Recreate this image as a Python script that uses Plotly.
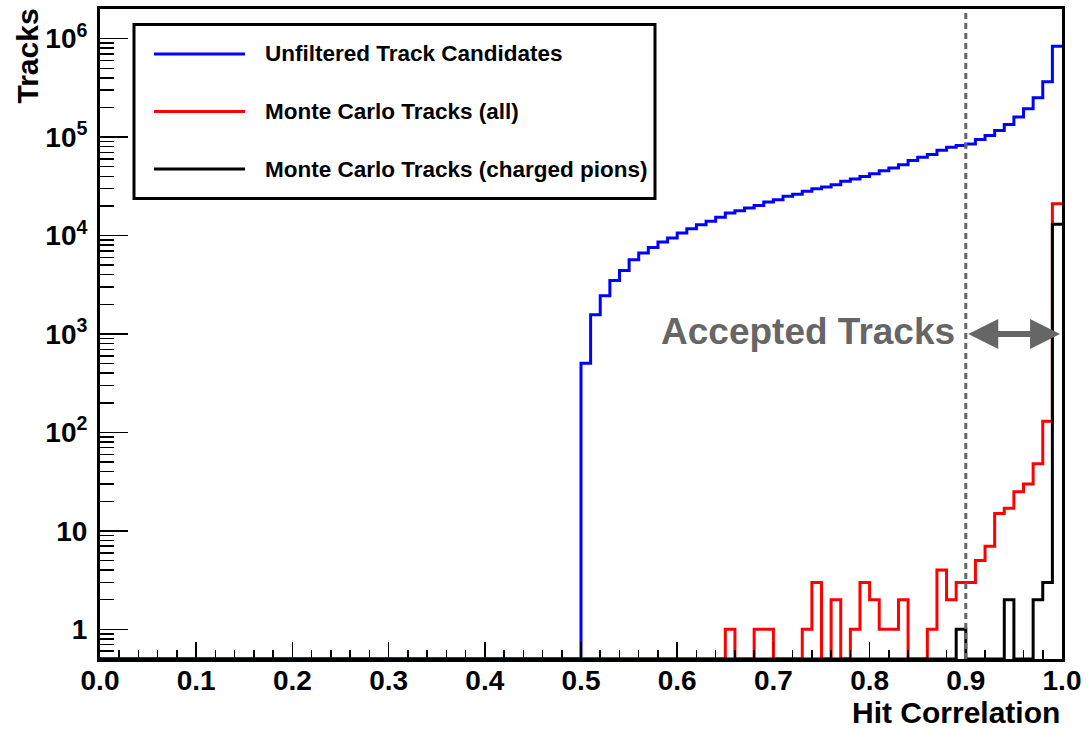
import numpy as np
import plotly.graph_objects as go

# ---------------- data ----------------
bin_edges = np.linspace(0.0, 1.0, 101)          # 100 bins of width 0.01

# Unfiltered Track Candidates (bins 0.00 ... 0.49 are empty)
blue_counts = [0] * 50 + [
    505, 1570, 2440, 3490, 4420, 5680, 6640, 7570, 8590, 9440,                 # 0.50-0.59
    10600, 11700, 12900, 14000, 15300, 16900, 17900, 19000, 20200, 21900,      # 0.60-0.69
    23100, 25000, 26200, 28100, 29900, 31100, 32900, 35500, 37600, 39900,      # 0.70-0.79
    42500, 45600, 48600, 52500, 58000, 62300, 66400, 73500, 78800, 82000,      # 0.80-0.89
    85300, 94400, 103600, 116400, 134000, 160400, 193500, 250600, 364000, 839000,  # 0.90-0.99
]

# Monte Carlo Tracks (all) (bins 0.00 ... 0.64 are empty)
red_counts = [0] * 65 + [
    1, 0, 0, 1, 1,                     # 0.65-0.69
    0, 0, 0, 1, 3, 0, 2, 0, 1, 3,      # 0.70-0.79
    2, 1, 1, 2, 0, 0, 1, 4, 2, 3,      # 0.80-0.89
    3, 5, 7, 15, 17, 25, 30, 48, 130, 21000,  # 0.90-0.99
]

# Monte Carlo Tracks (charged pions) (bins 0.00 ... 0.88 are empty)
black_counts = [0] * 89 + [
    1,                                 # 0.89
    0, 0, 0, 0, 2, 0, 0, 2, 3, 13000,  # 0.90-0.99
]

series_names = ["Unfiltered Track Candidates",
                "Monte Carlo Tracks (all)",
                "Monte Carlo Tracks (charged pions)"]
series_colors = ["#0000ff", "#ff0000", "#000000"]

cut_value = 0.9
accept_range = (0.9, 1.0)
accept_label = "Accepted Tracks"
x_title = "Hit Correlation"
y_title = "Tracks"
y_min, y_max = 0.5, 2.0e6
y_tickvals = [1, 10, 100, 1e3, 1e4, 1e5, 1e6]
y_ticktext = ["1", "10", "10<sup>2</sup>", "10<sup>3</sup>",
              "10<sup>4</sup>", "10<sup>5</sup>", "10<sup>6</sup>"]

# ---------------- figure ----------------
W, H = 1090, 729
ML, MR, MT, MB = 100, 28, 9, 70
PW, PH = W - ML - MR, H - MT - MB
FONT = "Liberation Sans, Arial, Helvetica, sans-serif"


def px_x(px):
    return (px - ML) / PW


def px_y(py):
    return (H - MB - py) / PH


def step_xy(counts):
    y = [c if c > 0 else y_min for c in counts]   # empty bins drawn on the axis floor
    return list(bin_edges), y + [y[-1]]


fig = go.Figure()
for counts, name, color in zip([blue_counts, red_counts, black_counts],
                               series_names, series_colors):
    xs, ys = step_xy(counts)
    fig.add_trace(go.Scatter(x=xs, y=ys, mode="lines", name=name,
                             line=dict(color=color, width=3, shape="hv"),
                             showlegend=False, hoverinfo="skip"))

# minor tick positions on the log axis
minor_vals = []
for e in range(-1, 7):
    for m in range(2, 10):
        v = m * 10.0 ** e
        if y_min <= v <= y_max:
            minor_vals.append(v)

fig.update_layout(
    width=W, height=H,
    margin=dict(l=ML, r=MR, t=MT, b=MB, autoexpand=False),
    plot_bgcolor="white", paper_bgcolor="white",
    font=dict(family=FONT, color="black"),
    showlegend=False,
    xaxis=dict(range=[0, 1], dtick=0.1, tick0=0, tickformat=".1f",
               ticks="inside", ticklen=17, tickwidth=1.5, tickcolor="black",
               minor=dict(dtick=0.02, tick0=0, ticks="inside", ticklen=9,
                          tickwidth=1.5, tickcolor="black"),
               showline=True, linewidth=3, linecolor="black", mirror=True,
               showgrid=False, zeroline=False,
               tickfont=dict(family=FONT, size=28, weight="bold", color="black"),
               ticklabelstandoff=-6),
    yaxis=dict(type="log", range=[np.log10(y_min), np.log10(y_max)],
               tickmode="array", tickvals=y_tickvals, ticktext=y_ticktext,
               ticks="inside", ticklen=28, tickwidth=1.5, tickcolor="black",
               minor=dict(tickmode="array", tickvals=minor_vals, ticks="inside",
                          ticklen=14, tickwidth=1.5, tickcolor="black"),
               showline=True, linewidth=3, linecolor="black", mirror=True,
               showgrid=False, zeroline=False,
               tickfont=dict(family=FONT, size=28, weight="bold", color="black"),
               ticklabelstandoff=4),
)

shapes = [
    dict(type="line", xref="x", yref="paper", x0=cut_value, x1=cut_value, y0=0, y1=1,
         line=dict(color="#666666", width=3, dash="6px,4px"), layer="above"),
    # legend box
    dict(type="rect", xref="paper", yref="paper",
         x0=px_x(134), x1=px_x(655), y0=px_y(198.5), y1=px_y(24.5),
         line=dict(color="black", width=3), fillcolor="white", layer="above"),
]
annotations = []
legend_rows = [54, 111.5, 169]
for row, name, color in zip(legend_rows, series_names, series_colors):
    shapes.append(dict(type="line", xref="paper", yref="paper",
                       x0=px_x(154), x1=px_x(245), y0=px_y(row), y1=px_y(row),
                       line=dict(color=color, width=3), layer="above"))
    annotations.append(dict(xref="paper", yref="paper", x=px_x(263), y=px_y(row),
                            xanchor="left", yanchor="middle", text=name, showarrow=False,
                            font=dict(family=FONT, size=22.5, weight="bold", color="black")))

# accepted-tracks arrow and label
annotations.append(dict(xref="x", yref="y", axref="x", ayref="y",
                        x=accept_range[1] - 0.002, y=3, ax=accept_range[0] + 0.001, ay=3,
                        text="", showarrow=True, arrowside="end+start",
                        arrowhead=2, startarrowhead=2, arrowsize=1.0, startarrowsize=1.0,
                        arrowwidth=6, arrowcolor="#666666", standoff=0, startstandoff=0))
annotations.append(dict(xref="x", yref="y", x=cut_value, y=3, xshift=-9, yshift=3,
                        xanchor="right", yanchor="middle", text=accept_label, showarrow=False,
                        font=dict(family=FONT, size=37, weight="bold", color="#666666")))

# axis titles (ROOT style: right / top aligned)
annotations.append(dict(xref="paper", yref="paper", x=1.0, y=px_y(712),
                        xanchor="right", yanchor="middle", text=x_title, showarrow=False,
                        font=dict(family=FONT, size=30, weight="bold", color="black")))
annotations.append(dict(xref="paper", yref="paper", x=px_x(27), y=px_y(7),
                        xanchor="center", yanchor="top", text=y_title, textangle=-90,
                        showarrow=False,
                        font=dict(family=FONT, size=30, weight="bold", color="black")))

fig.update_layout(shapes=shapes, annotations=annotations)
fig.write_html("out.html",
               config={"displayModeBar": False, "staticPlot": True},
               post_script="document.body.style.margin='0px';"
                           "document.body.style.overflow='hidden';")
